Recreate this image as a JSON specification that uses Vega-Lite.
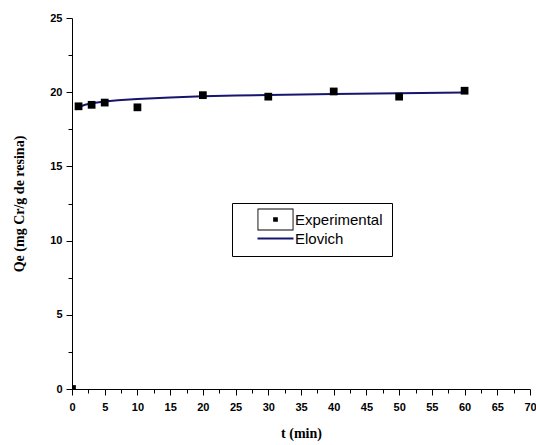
{
  "$schema": "https://vega.github.io/schema/vega-lite/v6.json",
  "width": 458,
  "height": 371,
  "autosize": {"type": "none"},
  "padding": {"left": 72, "top": 18, "right": 6, "bottom": 56},
  "background": "white",
  "config": {
    "view": {"stroke": null},
    "axis": {
      "domainColor": "#000000",
      "domainWidth": 1,
      "tickColor": "#000000",
      "tickWidth": 1,
      "grid": false,
      "labelFont": "Liberation Sans",
      "labelFontSize": 11,
      "labelFontWeight": "bold",
      "labelColor": "#000000",
      "labelPadding": 4,
      "titleFont": "Liberation Serif",
      "titleFontSize": 14,
      "titleFontWeight": "bold",
      "titleColor": "#000000"
    }
  },
  "data": {
    "values": [
      {"series": "Experimental", "t": 0, "qe": 0},
      {"series": "Experimental", "t": 1, "qe": 19.05},
      {"series": "Experimental", "t": 3, "qe": 19.15},
      {"series": "Experimental", "t": 5, "qe": 19.3},
      {"series": "Experimental", "t": 10, "qe": 18.98},
      {"series": "Experimental", "t": 20, "qe": 19.8},
      {"series": "Experimental", "t": 30, "qe": 19.7},
      {"series": "Experimental", "t": 40, "qe": 20.05},
      {"series": "Experimental", "t": 50, "qe": 19.7},
      {"series": "Experimental", "t": 60, "qe": 20.1},
      {"series": "Elovich", "t": 0.6, "qe": 18.82},
      {"series": "Elovich", "t": 1, "qe": 19.0},
      {"series": "Elovich", "t": 2, "qe": 19.15},
      {"series": "Elovich", "t": 3, "qe": 19.25},
      {"series": "Elovich", "t": 5, "qe": 19.37},
      {"series": "Elovich", "t": 7, "qe": 19.46},
      {"series": "Elovich", "t": 10, "qe": 19.54},
      {"series": "Elovich", "t": 15, "qe": 19.64},
      {"series": "Elovich", "t": 20, "qe": 19.72},
      {"series": "Elovich", "t": 25, "qe": 19.77},
      {"series": "Elovich", "t": 30, "qe": 19.81},
      {"series": "Elovich", "t": 40, "qe": 19.88},
      {"series": "Elovich", "t": 50, "qe": 19.93},
      {"series": "Elovich", "t": 60, "qe": 19.98}
    ]
  },
  "encoding": {
    "x": {
      "field": "t",
      "type": "quantitative",
      "scale": {"domain": [0, 70], "nice": false, "zero": false},
      "axis": {
        "title": "t (min)",
        "titlePadding": 14,
        "labelPadding": 6,
        "values": [0, 2.5, 5, 7.5, 10, 12.5, 15, 17.5, 20, 22.5, 25, 27.5, 30, 32.5, 35, 37.5, 40, 42.5, 45, 47.5, 50, 52.5, 55, 57.5, 60, 62.5, 65, 67.5, 70],
        "labelExpr": "datum.value % 5 === 0 ? datum.label : ''",
        "tickSize": {"condition": {"test": "datum.value % 5 === 0", "value": 6}, "value": 4},
        "labelFlush": false,
        "labelOverlap": false
      }
    },
    "y": {
      "field": "qe",
      "type": "quantitative",
      "scale": {"domain": [0, 25], "nice": false, "zero": false},
      "axis": {
        "title": "Qe (mg Cr/g de resina)",
        "titlePadding": 23,
        "values": [0, 2.5, 5, 7.5, 10, 12.5, 15, 17.5, 20, 22.5, 25],
        "labelExpr": "datum.value % 5 === 0 ? datum.label : ''",
        "tickSize": {"condition": {"test": "datum.value % 5 === 0", "value": 6}, "value": 4},
        "labelFlush": false,
        "labelOverlap": false
      }
    },
    "color": {
      "field": "series",
      "type": "nominal",
      "scale": {"domain": ["Experimental", "Elovich"], "range": ["#000000", "#16166e"]},
      "legend": {
        "title": null,
        "orient": "none",
        "legendX": 160,
        "legendY": 185,
        "strokeColor": "#000000",
        "padding": 9,
        "fillColor": "white",
        "labelFont": "Liberation Sans",
        "labelFontSize": 18,
        "labelColor": "#000000",
        "labelOffset": 12,
        "symbolSize": 1296,
        "symbolOffset": 27,
        "rowPadding": -2,
        "encode": {
          "labels": {
            "update": {
              "fontSize": {"value": 15}
            }
          },
          "symbols": {
            "update": {
              "shape": {"signal": "datum.value === 'Elovich' ? 'stroke' : 'M-1,-0.61H1V0.61H-1Z M-0.95,-0.55V0.55H0.95V-0.55Z M-0.13,-0.13H0.13V0.13H-0.13Z'"},
              "size": {"value": 1296},
              "fill": {"signal": "datum.value === 'Elovich' ? 'transparent' : '#000000'"},
              "stroke": {"signal": "datum.value === 'Elovich' ? '#16166e' : '#000000'"},
              "strokeWidth": {"signal": "datum.value === 'Elovich' ? 2 : 0"},
              "opacity": {"value": 1}
            }
          }
        }
      }
    }
  },
  "layer": [
    {
      "transform": [{"filter": "datum.series === 'Elovich'"}],
      "mark": {"type": "line", "strokeWidth": 2, "clip": true}
    },
    {
      "transform": [{"filter": "datum.series === 'Experimental'"}],
      "mark": {"type": "square", "size": 60, "opacity": 1, "clip": true}
    }
  ]
}
